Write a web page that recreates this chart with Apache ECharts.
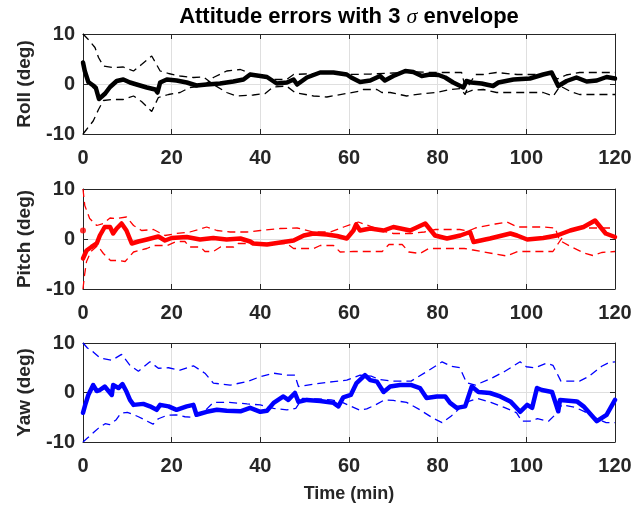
<!DOCTYPE html>
<html>
<head>
<meta charset="utf-8">
<script src="https://cdn.jsdelivr.net/npm/echarts@6/dist/echarts.min.js"></script>
<style>html,body{margin:0;padding:0;background:#fff;}#c{width:637px;height:514px;}</style>
</head>
<body>
<div id="c"></div>
<script>
// ---- data (time in min, value in deg) ----
const xTicks = [0, 20, 40, 60, 80, 100, 120];
const yTicks = [-10, 0, 10];
const panelNames = ['Roll (deg)', 'Pitch (deg)', 'Yaw (deg)'];

const rollError = [[0,4.3],[0.4,2.6],[1.2,0.4],[2.3,-0.3],[2.9,-0.8],[3.6,-3.0],[5,-1.9],[6.1,-0.6],[7.6,0.6],[9.1,0.9],[10.6,0.3],[12.1,-0.1],[14.4,-0.7],[16.3,-1.1],[16.8,-1.7],[17.4,0.3],[18.9,0.9],[21.1,0.7],[23.4,0.3],[25.6,-0.3],[27.9,-0.1],[30.9,0.1],[33.9,0.5],[36.2,0.9],[37.7,1.9],[40,1.6],[41.5,1.4],[43.7,0.1],[46,0.3],[47.5,0.9],[48.3,-0.1],[50.5,1.3],[53.5,2.3],[56.5,2.3],[59.5,1.9],[60.5,1.3],[62.5,0.4],[64.8,0.7],[67,1.6],[68.1,0.7],[70,1.6],[72.7,2.6],[74.5,2.4],[76.4,1.6],[78.3,1.9],[80.2,1.8],[81.7,1.3],[83.5,0.3],[85.8,-0.7],[86.5,0.6],[87.6,0.3],[89.9,0.1],[92.5,-0.4],[93.7,0.3],[97.1,0.9],[100.8,1.1],[103.8,1.9],[105.7,2.3],[107.2,-0.4],[109.1,0.6],[111.3,1.3],[113.6,0.5],[115.9,0.7],[118.1,1.4],[120,1.1]];
const rollEnvA = [[0,10],[1.2,8.9],[2.7,7.3],[3.5,5.3],[4.6,3.6],[6.8,3.3],[9.1,3.4],[11.4,2.6],[13.2,3.9],[15.5,5.6],[17.4,2.6],[19.3,2.1],[21.9,1.6],[24.9,1.3],[27.2,1.4],[29.4,-0.1],[32.4,-1.7],[34.7,-2.4],[38.4,-2.2],[41.1,-1.9],[42.9,-0.6],[45.9,-0.4],[47.8,-1.7],[52,-2.4],[55,-2.6],[59.5,-1.9],[62.5,-1.4],[63.2,-1.1],[66.3,-1.1],[67.4,-1.7],[69.3,-1.7],[73,-2.4],[76.8,-1.9],[79.8,-1.7],[82.8,-1.1],[85.1,-0.9],[86.2,-2.1],[86.9,-0.4],[88.5,1.9],[90.3,1.9],[93.3,2.3],[97.9,1.9],[102.4,1.9],[105.4,2.3],[107,1.0],[109,1.8],[112,2.3],[120,2.3]];
const rollEnvB = [[0,-10],[0.8,-9.1],[2.3,-7.4],[3.5,-5.1],[4.6,-3.3],[6.8,-3.1],[9.1,-3.1],[11.4,-2.4],[13.2,-3.5],[15.5,-5.5],[17,-2.7],[19.3,-2.1],[21.9,-1.7],[24.1,-0.7],[27.2,-0.4],[29.4,1.3],[32.4,2.6],[35.5,2.9],[38.4,1.9],[42.9,0.9],[45.9,0.9],[47.5,1.9],[50,2.0],[55,2.2],[60,1.9],[65,2.0],[70,2.2],[75,2.4],[80,2.3],[85.4,2.3],[86.5,-1.7],[88,-1.2],[90.3,-1.1],[93.3,-1.7],[97.9,-1.7],[103.8,-1.7],[106.1,-2.4],[107.6,-0.4],[110,-1.5],[112,-2.1],[120,-2.1]];

const pitchStart = [[0,1.7]];
const pitchError = [[0,-3.9],[0.8,-2.3],[1.9,-1.6],[3.1,-0.9],[3.8,0.7],[4.9,2.4],[6.1,2.4],[6.8,1.1],[7.6,2.1],[8.7,3.1],[9.8,1.7],[11,-0.9],[12.5,-0.5],[14.4,-0.1],[17,0.5],[18.5,-0.3],[20,0.2],[23.4,0.4],[26.4,-0.1],[29.4,0.2],[32.4,-0.1],[35.5,0.1],[37.7,-0.5],[38.4,-0.9],[41.5,-1.1],[44.5,-0.7],[47.5,-0.3],[49.8,0.7],[52,1.1],[55,0.9],[57.3,0.6],[59.5,0.1],[61,1.7],[61.6,2.9],[62.5,1.7],[64.8,2.1],[67.8,1.7],[70,2.4],[73.8,1.7],[77.2,3.1],[79.4,0.7],[82.1,0.1],[85.1,0.7],[87.3,1.4],[88.1,-0.6],[91.8,0.1],[96.4,1.1],[97.9,0.7],[100.2,-0.1],[103.8,0.2],[106.9,0.7],[109.9,1.7],[112.9,2.4],[115.5,3.7],[117.9,1.1],[120,0.4]];
const pitchEnvA = [[0,10],[0.4,6.7],[1.5,4.1],[3.1,2.7],[4.6,3.1],[6.1,4.2],[7.6,4.1],[9.8,4.4],[11.4,2.7],[13.2,1.7],[15.9,1.9],[18.5,0.7],[21.1,1.1],[24.1,1.4],[27.9,2.4],[30.2,1.7],[33.2,1.4],[37,1.4],[40,1.7],[44.5,2.1],[48.3,2.2],[52,1.4],[55.8,1.4],[58.8,2.4],[62.1,3.4],[65,2.5],[68,1.5],[70,1.1],[74,1.1],[77,1.4],[79.5,1.9],[85,1.9],[87,1.6],[88.5,2.2],[93,3.0],[95.6,3.4],[98,2.4],[104,2.4],[106.5,2.2],[107.5,-0.3],[110,-1.5],[113,-2.8],[115,-3.3],[117,-2.7],[120,-2.5]];
const pitchEnvB = [[0,-10],[0.3,-7.5],[0.8,-4.5],[1.8,-2.5],[3.3,-1.3],[4.6,-2.9],[6.2,-4.3],[8,-4.3],[9.5,-4.5],[11.4,-2.6],[14.4,-1.9],[16,-1.3],[19,-1.3],[21,-0.5],[23,-0.5],[24,-1.6],[26.5,-1.6],[27.5,-2.5],[29.4,-2.5],[31,-1.6],[34,-1.6],[35,-0.9],[46,-0.9],[47.5,-1.9],[52,-1.9],[53.5,-1.3],[56.5,-1.3],[58,-2.6],[61,-2.5],[65,-2.5],[67.5,-2.5],[69,-1.1],[72,-1.1],[73.5,-2.6],[76,-2.9],[78,-1.9],[86,-1.9],[88,-2.2],[93,-3.0],[95.6,-3.4],[98,-2.5],[106,-2.5],[107.5,-0.5],[109,1.5],[111,2.2],[120,2.2]];

const yawError = [[0,-4.1],[0.5,-2.5],[1.2,-0.5],[2.3,1.5],[3.1,0.3],[3.8,0.5],[4.9,1.2],[6.5,-0.5],[6.8,1.5],[8,0.9],[8.9,1.7],[9.8,0.2],[10.6,-1.5],[11.4,-2.5],[13.6,-2.3],[15.1,-2.8],[16.6,-3.5],[17.4,-2.5],[19.3,-2.8],[21.1,-3.5],[23.4,-2.8],[24.9,-2.5],[25.6,-4.5],[27.9,-3.9],[30.2,-3.5],[32.4,-3.7],[35.5,-3.8],[37.7,-3.1],[40,-3.9],[41.5,-3.7],[43,-2.1],[45.2,-0.8],[46.3,-1.5],[47.8,-0.1],[48.6,-1.9],[50.5,-1.5],[53.5,-1.7],[56.5,-2.1],[57.6,-2.8],[58.7,-1.0],[60.4,-0.5],[61.7,1.9],[63.6,3.5],[64.8,2.5],[66.3,2.2],[67.8,0.1],[69.3,1.2],[71.5,1.5],[74.1,1.5],[76,0.9],[77.5,-1.1],[79.8,-0.8],[81.7,-0.8],[82.8,-2.1],[84.3,-3.1],[86.2,-2.8],[87.7,1.2],[89.2,0.1],[91.8,-0.1],[94.1,-0.8],[96.4,-1.8],[98.6,-3.9],[100.2,-2.5],[101.3,-3.1],[102.4,0.9],[103.5,0.5],[105.8,0.1],[107.2,-3.8],[107.6,-1.5],[111.4,-1.8],[112.9,-2.8],[115.9,-5.8],[118.1,-4.5],[120,-1.5]];
const yawEnvA = [[0,10],[1,9.0],[2.3,8.2],[3.8,7.0],[6.5,6.5],[8.7,7.7],[10.6,5.5],[12.5,4.3],[15.1,6.2],[17,4.9],[19.3,5.0],[21.9,4.5],[24.9,5.4],[27.5,3.9],[29.4,1.9],[33.2,1.5],[37,2.2],[40,3.2],[43,3.9],[46,3.5],[47.8,3.5],[48.6,1.2],[52,1.7],[56.5,2.2],[59.5,2.5],[62.5,3.5],[65,3.3],[67,2.6],[70,2.3],[74,2.3],[77.5,4.2],[81,6.2],[83,5.3],[85,5.0],[86.5,2.0],[88.5,1.5],[92,2.8],[95,4.2],[98.6,6.2],[100,5.2],[102,5.0],[104.5,5.9],[106,5.5],[107.8,2.3],[112,2.3],[114,3.2],[117,5.3],[118.5,6.0],[120,6.2]];
const yawEnvB = [[0,-10],[1,-9.2],[2.5,-8.0],[3.5,-7.2],[5,-6.3],[6,-6.5],[7.5,-5.5],[8.5,-4.2],[10,-4.0],[11.5,-4.5],[12.5,-4.9],[14.5,-5.8],[15.8,-6.4],[17,-5.3],[19,-4.6],[21,-4.5],[23,-4.9],[25,-5.0],[27.5,-3.7],[29.4,-2.0],[33,-2.0],[37,-2.3],[40,-2.5],[43,-3.2],[46,-3.5],[48,-3.2],[49.5,-1.2],[53,-1.3],[56,-1.5],[58,-1.8],[60.5,-2.8],[62.5,-3.6],[64,-3.3],[66,-2.5],[68,-1.5],[70,-1.6],[73,-2.0],[76,-3.5],[79,-5.2],[81,-6.1],[83,-4.8],[85.8,-2.5],[87,-1.8],[89,-1.2],[92,-2.0],[95,-3.0],[97.8,-4.1],[99,-5.8],[100.8,-5.8],[102.5,-5.3],[105,-5.8],[106.5,-4.5],[108,-2.5],[111,-3.0],[113,-3.8],[116,-5.3],[118,-6.1],[120,-6.1]];

// ---- chart ----
const FONT = '"Liberation Sans", Arial, Helvetica, sans-serif';
const AX = '#262626';
const colors = ['#000000', '#ff0000', '#0000ff'];
const panels = [
  {err: rollError, a: rollEnvA, b: rollEnvB},
  {err: pitchError, a: pitchEnvA, b: pitchEnvB},
  {err: yawError, a: yawEnvA, b: yawEnvB}
];
const grids = [
  {left: 83, top: 34, width: 532, height: 100},
  {left: 83, top: 189, width: 532, height: 100},
  {left: 83, top: 343, width: 532, height: 99}
];
const xMin = xTicks[0], xMax = xTicks[xTicks.length - 1], xInt = xTicks[1] - xTicks[0];
const yMin = yTicks[0], yMax = yTicks[yTicks.length - 1], yInt = yTicks[1] - yTicks[0];

const xAxis = [], yAxis = [], series = [];
grids.forEach((g, i) => {
  xAxis.push({
    gridIndex: i, type: 'value', min: xMin, max: xMax, interval: xInt,
    axisLine: {show: true, onZero: false, lineStyle: {color: AX, width: 1}},
    axisTick: {show: true, inside: true, length: 5, lineStyle: {color: AX}},
    axisLabel: {fontSize: 20, fontWeight: 'bold', color: AX, fontFamily: FONT, margin: 14},
    splitLine: {show: true, lineStyle: {color: '#dfdfdf', width: 1}},
    name: i === 2 ? 'Time (min)' : '', nameLocation: 'middle', nameGap: 43,
    nameTextStyle: {fontSize: 18, fontWeight: 'bold', color: AX, fontFamily: FONT}
  });
  xAxis.push({
    gridIndex: i, type: 'value', min: xMin, max: xMax, interval: xInt, position: 'top',
    axisLine: {show: true, onZero: false, lineStyle: {color: AX, width: 1}},
    axisTick: {show: true, inside: true, length: 5, lineStyle: {color: AX}},
    axisLabel: {show: false}, splitLine: {show: false}
  });
  yAxis.push({
    gridIndex: i, type: 'value', min: yMin, max: yMax, interval: yInt,
    axisLine: {show: true, onZero: false, lineStyle: {color: AX, width: 1}},
    axisTick: {show: true, inside: true, length: 5, lineStyle: {color: AX}},
    axisLabel: {fontSize: 20, fontWeight: 'bold', color: AX, fontFamily: FONT, margin: 8},
    splitLine: {show: true, lineStyle: {color: '#dfdfdf', width: 1}},
    name: panelNames[i], nameLocation: 'middle', nameGap: 49,
    nameTextStyle: {fontSize: 19, fontWeight: 'bold', color: AX, fontFamily: FONT}
  });
  yAxis.push({
    gridIndex: i, type: 'value', min: yMin, max: yMax, interval: yInt, position: 'right',
    axisLine: {show: true, onZero: false, lineStyle: {color: AX, width: 1}},
    axisTick: {show: true, inside: true, length: 5, lineStyle: {color: AX}},
    axisLabel: {show: false}, splitLine: {show: false}
  });
  const p = panels[i], c = colors[i];
  const dashed = {color: c, width: 1.3, type: [8, 5]};
  [p.a, p.b].forEach(d => series.push({
    type: 'line', xAxisIndex: 2 * i, yAxisIndex: 2 * i, data: d,
    showSymbol: false, symbol: 'none', lineStyle: dashed, animation: false, silent: true, z: 2
  }));
  series.push({
    type: 'line', xAxisIndex: 2 * i, yAxisIndex: 2 * i, data: p.err,
    showSymbol: false, symbol: 'none', lineStyle: {color: c, width: 4.5, join: 'round', cap: 'round'},
    animation: false, silent: true, z: 3
  });
});
series.push({
  type: 'scatter', xAxisIndex: 2, yAxisIndex: 2, data: pitchStart,
  symbol: 'circle', symbolSize: 6, itemStyle: {color: '#ff0000'}, animation: false, silent: true, z: 4
});

const chart = echarts.init(document.getElementById('c'), null, {renderer: 'canvas'});
chart.setOption({
  backgroundColor: '#ffffff',
  animation: false,
  title: {
    text: '{a|Attitude errors with 3 }{s|σ}{a| envelope}',
    left: 349, top: 6, textAlign: 'center', padding: 0,
    textStyle: {
      rich: {
        a: {fontSize: 22, fontWeight: 'bold', color: '#000', fontFamily: FONT},
        s: {fontSize: 22, fontStyle: 'italic', fontWeight: 'normal', color: '#000', fontFamily: '"Liberation Serif", serif'}
      }
    }
  },
  grid: grids,
  xAxis: xAxis,
  yAxis: yAxis,
  series: series
});
</script>
</body>
</html>
